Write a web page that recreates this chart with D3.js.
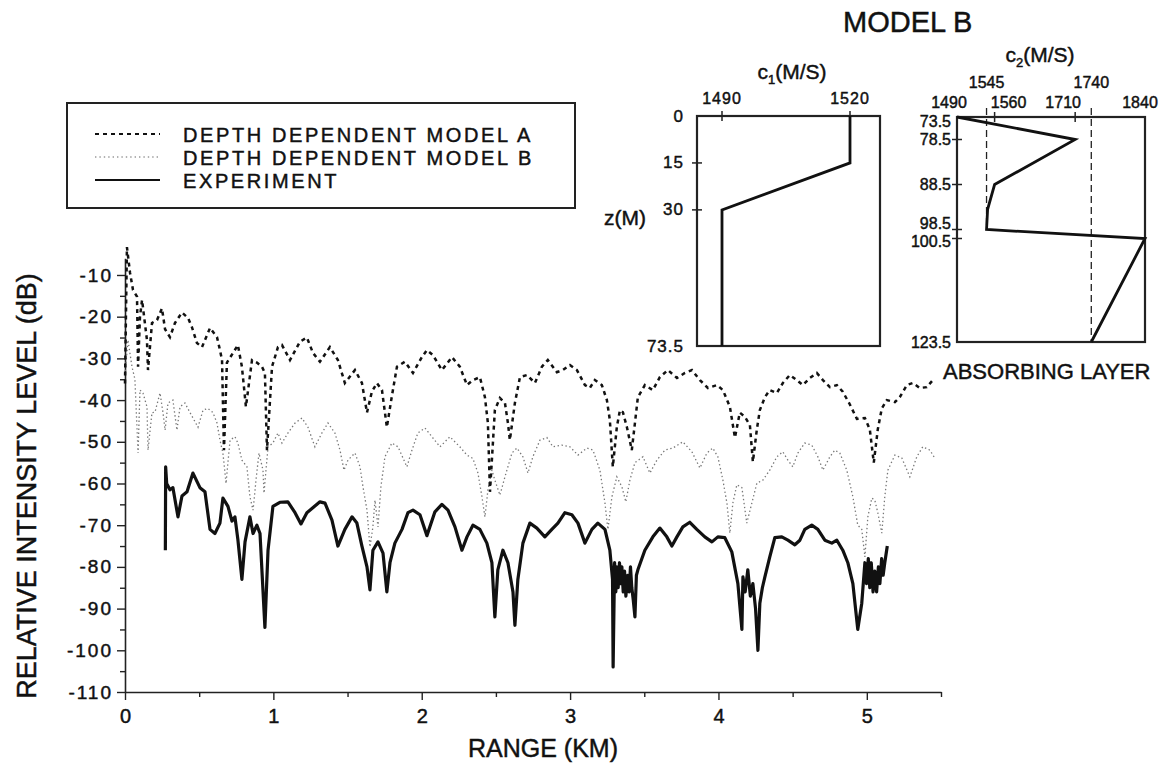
<!DOCTYPE html>
<html><head><meta charset="utf-8">
<script src="https://cdn.jsdelivr.net/npm/d3@7"></script>
<style>
body{margin:0;background:#fff;}
svg{display:block;}
text{font-family:"Liberation Sans",Arial,sans-serif;fill:#111;stroke:#111;stroke-width:0.45px;}
</style></head>
<body>
<svg id="c" width="1163" height="766"></svg>
<script>
// ---------------- DATA ----------------
// Main chart: range (km) and relative intensity level (dB)
const modelA_km = [0.000,0.013,0.034,0.054,0.081,0.088,0.101,0.115,0.148,0.155,0.182,0.216,0.249,0.270,0.303,0.337,0.384,0.425,0.451,0.485,0.519,0.539,0.573,0.620,0.640,0.654,0.667,0.687,0.728,0.761,0.788,0.815,0.856,0.889,0.923,0.943,0.957,0.991,1.031,1.058,1.112,1.179,1.226,1.267,1.314,1.381,1.435,1.482,1.550,1.597,1.631,1.664,1.698,1.732,1.765,1.799,1.833,1.887,1.941,2.001,2.035,2.075,2.136,2.204,2.257,2.305,2.345,2.392,2.426,2.446,2.460,2.493,2.527,2.561,2.581,2.594,2.628,2.662,2.709,2.763,2.810,2.850,2.911,2.951,2.999,3.046,3.100,3.133,3.167,3.214,3.248,3.268,3.288,3.315,3.336,3.356,3.383,3.416,3.437,3.457,3.504,3.558,3.605,3.659,3.720,3.774,3.821,3.875,3.929,3.989,4.030,4.077,4.111,4.144,4.178,4.212,4.232,4.259,4.279,4.313,4.346,4.394,4.434,4.481,4.528,4.569,4.616,4.663,4.704,4.751,4.798,4.838,4.885,4.933,4.987,5.020,5.047,5.074,5.101,5.135,5.189,5.222,5.270,5.310,5.357,5.404,5.445];
const modelA_db = [-36,-3.3,-9.5,-13.6,-15.2,-32,-20,-16,-25.6,-32.8,-21.5,-20.8,-18,-23,-24.9,-21.5,-19,-20.3,-22.5,-26.3,-27.3,-25.6,-22.7,-24.9,-28,-30.4,-52,-31,-28.7,-26.8,-32,-41.6,-30.4,-31,-32,-33.5,-52,-32,-27.3,-26.8,-30.4,-26,-25,-28.7,-30.8,-27.3,-30.4,-35.9,-32.8,-35.9,-43,-38,-35.9,-37.6,-46.5,-39,-32,-30.8,-33.5,-29.7,-28,-29.2,-32.8,-29.7,-32,-36.4,-35.2,-34.5,-39.3,-45.5,-62,-42.4,-39.5,-40.7,-45.5,-49.6,-40.7,-34.5,-34,-35.9,-32,-30.4,-33.3,-32.8,-31.6,-32.8,-36.4,-37.1,-35.2,-36.4,-40,-44.8,-56,-46.5,-42.4,-42.9,-46.5,-52,-45.5,-39.3,-36.4,-37.6,-34.5,-32.8,-34.7,-33.5,-32.8,-35.2,-37.1,-36.4,-37.6,-41.6,-49,-43,-44,-46,-54.8,-47,-42.4,-39.3,-37.6,-38.3,-35.9,-34,-35.2,-36.4,-34.7,-33.5,-35.2,-36.9,-36.4,-38,-41,-44.5,-44.3,-47,-55,-47,-42,-40,-40.5,-39.3,-36.4,-35.9,-37.1,-36.9,-35.2];

const modelB_km = [0.000,0.020,0.047,0.067,0.088,0.101,0.121,0.148,0.155,0.182,0.202,0.236,0.256,0.270,0.290,0.323,0.350,0.371,0.404,0.438,0.472,0.492,0.526,0.559,0.593,0.620,0.640,0.660,0.681,0.708,0.741,0.761,0.788,0.822,0.842,0.863,0.883,0.903,0.930,0.937,0.964,0.997,1.031,1.058,1.098,1.146,1.193,1.233,1.280,1.327,1.368,1.415,1.449,1.476,1.503,1.550,1.584,1.604,1.631,1.651,1.671,1.685,1.705,1.725,1.752,1.799,1.840,1.900,1.934,1.974,2.022,2.069,2.123,2.190,2.257,2.305,2.345,2.379,2.406,2.426,2.446,2.473,2.493,2.527,2.561,2.608,2.642,2.682,2.716,2.749,2.797,2.844,2.884,2.945,2.999,3.053,3.113,3.154,3.201,3.235,3.255,3.282,3.315,3.349,3.376,3.403,3.437,3.491,3.538,3.585,3.639,3.693,3.760,3.821,3.875,3.922,3.962,3.996,4.030,4.057,4.077,4.097,4.124,4.158,4.191,4.225,4.259,4.299,4.346,4.394,4.434,4.468,4.501,4.535,4.582,4.629,4.670,4.704,4.751,4.784,4.818,4.865,4.906,4.939,4.966,4.987,5.007,5.034,5.054,5.074,5.101,5.121,5.142,5.189,5.236,5.290,5.337,5.377,5.425,5.458];
const modelB_db = [-34,-25.6,-32,-35,-52.7,-37.6,-38.3,-41.6,-52,-43,-42.9,-38.3,-43,-47.2,-40.7,-40,-47.2,-41.6,-40.7,-43,-45.2,-46.5,-42.4,-42,-43,-45.5,-49.6,-52.7,-60,-49.6,-48.8,-50.3,-54.4,-56,-63.2,-66.4,-59.2,-52.7,-56.8,-62.3,-51.2,-50.3,-47.9,-50.3,-47.9,-45.5,-44.3,-46.5,-51.2,-47.9,-45.5,-47.9,-52,-56.8,-54.4,-52.7,-56,-60.8,-66.4,-75.2,-70.4,-64,-70.4,-60.8,-53.6,-50.3,-51.2,-56,-52,-47.9,-46.7,-48.8,-51.2,-48.8,-51.2,-53.2,-54,-57.5,-63.2,-68,-61.6,-56.8,-59.2,-62.8,-58.4,-52.7,-51.5,-53.6,-57.5,-53.6,-49.6,-49,-51.2,-50.8,-51.2,-53.2,-51.5,-52,-56.8,-64.7,-71,-63.2,-58.4,-60.8,-64.4,-59.2,-55,-53.6,-57.5,-54.4,-52,-51.5,-50,-52.4,-56.3,-52.7,-51.5,-53.6,-59.2,-64.7,-71.9,-64.7,-60.3,-61,-69.5,-64.7,-59.9,-59.2,-56.8,-53.6,-52.4,-54.4,-56,-52.7,-50.3,-50.8,-53.6,-56.8,-53.6,-52,-52.7,-56.8,-63.2,-70,-71,-77.6,-68,-63.5,-64,-67,-71.9,-63.2,-56.8,-53.2,-53.9,-58.4,-53.6,-51.2,-52,-53.9];

const exp_km = [0.272,0.274,0.281,0.303,0.323,0.357,0.384,0.418,0.458,0.505,0.539,0.573,0.606,0.640,0.660,0.694,0.721,0.741,0.761,0.788,0.809,0.842,0.863,0.889,0.910,0.943,0.964,0.997,1.044,1.098,1.146,1.186,1.226,1.260,1.314,1.348,1.395,1.435,1.482,1.530,1.563,1.597,1.631,1.651,1.671,1.705,1.739,1.765,1.786,1.819,1.867,1.907,1.941,1.988,2.035,2.089,2.136,2.177,2.224,2.271,2.305,2.345,2.392,2.439,2.473,2.493,2.513,2.547,2.581,2.615,2.628,2.648,2.682,2.729,2.776,2.830,2.877,2.918,2.965,3.012,3.053,3.100,3.147,3.187,3.235,3.268,3.286,3.290,3.300,3.308,3.315,3.324,3.333,3.341,3.349,3.358,3.367,3.376,3.389,3.398,3.407,3.416,3.426,3.437,3.447,3.457,3.504,3.558,3.605,3.652,3.686,3.720,3.760,3.807,3.854,3.908,3.956,3.996,4.043,4.090,4.131,4.158,4.165,4.180,4.198,4.215,4.232,4.250,4.266,4.279,4.296,4.313,4.346,4.380,4.427,4.468,4.515,4.549,4.582,4.629,4.670,4.717,4.764,4.798,4.838,4.872,4.906,4.939,4.966,4.987,4.998,5.010,5.020,5.030,5.042,5.054,5.066,5.078,5.088,5.100,5.110,5.121,5.138,5.155];
const exp_db = [-76,-56,-60,-61.5,-61,-68,-63,-62,-57.5,-61,-62,-71,-72,-69.5,-63.5,-65.5,-69,-68,-73.5,-83,-74,-68,-72,-70,-72,-94.5,-76,-65.5,-64.5,-64.4,-67,-69.7,-67,-66,-64.4,-64.7,-68.8,-75,-71,-68,-69.5,-75,-80,-85.5,-76,-74,-76.7,-86,-79,-74.3,-71,-67,-66.4,-67.5,-72.5,-66.8,-65,-66.4,-70.4,-76,-72.8,-70,-71,-74.3,-79,-92,-80.7,-76,-79,-86,-94,-83,-74.3,-69.5,-70.7,-72.8,-71,-69.5,-67,-67.5,-69.5,-74.3,-71,-69.5,-71,-76,-83,-104,-79,-86,-80,-85,-79,-84,-80,-86,-81,-87,-82,-86,-80,-85,-88,-92,-82,-80.7,-76,-72.8,-70.7,-72.8,-75,-72.8,-70.4,-69.3,-71,-72.8,-74,-72.8,-73,-76.4,-84,-95,-82.4,-86,-80.7,-87,-84,-90,-100,-88.7,-85,-82.4,-77.6,-73,-72.8,-73.6,-74.7,-73.6,-71,-70,-71,-73.6,-74.3,-73.6,-76,-79,-84,-95,-88.7,-79,-84,-78,-85,-79,-86,-81,-86,-80,-84,-78,-82,-79,-75];

const yTicks = [-10,-20,-30,-40,-50,-60,-70,-80,-90,-100,-110];
const yMinor = [-15,-25,-35,-45,-55,-65,-75,-85,-95,-105];
const xTicks = [0,1,2,3,4,5];
const xMinor = [0.5,1.5,2.5,3.5,4.5,5.5];

const legendLabels = ["DEPTH DEPENDENT MODEL A","DEPTH DEPENDENT MODEL B","EXPERIMENT"];

// Inset 1: water column sound speed c1 vs depth z
const c1_depth = [0,15,30,73.5];
const c1_speed = [1520,1520,1490,1490];
const c1_ticks = [1490,1520];
const z1_ticks = [0,15,30,73.5];

// Inset 2: bottom sound speed c2 vs depth
const c2_depth = [73.5,78.5,88.5,94,98.5,100.5,123.5];
const c2_speed = [1490,1710,1560,1547,1545,1840,1740];
const c2_ticks = [1490,1560,1710,1840];
const c2_refs = [1545,1740];
const z2_ticks = [73.5,78.5,88.5,98.5,100.5,123.5];

// ---------------- DRAW ----------------
const svg = d3.select("#c");
const x = d3.scaleLinear().domain([0,5.5]).range([125,941]);
const y = d3.scaleLinear().domain([-110,-6]).range([692,258.3]);

// axes
const gy = svg.append("g").attr("transform","translate(125,0)")
  .call(d3.axisLeft(y).tickValues(yTicks).tickSize(8).tickSizeOuter(0).tickFormat(d=>d));
gy.selectAll("text").style("font-size","19px").attr("x",-12).style("letter-spacing","2px");
svg.append("g").attr("transform","translate(125,0)")
  .call(d3.axisLeft(y).tickValues(yMinor).tickSize(5).tickFormat("")).select(".domain").remove();
const gx = svg.append("g").attr("transform","translate(0,692)")
  .call(d3.axisBottom(x).tickValues(xTicks).tickSize(8).tickSizeOuter(0).tickFormat(d3.format("d")));
gx.selectAll("text").style("font-size","20px").attr("y",17);
svg.append("g").attr("transform","translate(0,692)")
  .call(d3.axisBottom(x).tickValues(xMinor).tickSize(5).tickFormat("")).select(".domain").remove();
svg.selectAll(".domain").attr("stroke","#222").attr("stroke-width",1.6);
svg.selectAll(".tick line").attr("stroke","#222").attr("stroke-width",1.4);
svg.selectAll(".tick text").attr("fill","#111").style("font-family","'Liberation Sans',Arial,sans-serif");

svg.append("text").attr("transform","translate(27,486) rotate(-90)")
  .attr("text-anchor","middle").attr("dominant-baseline","central")
  .style("font-size","27px").text("RELATIVE INTENSITY LEVEL (dB)");
svg.append("text").attr("x",543).attr("y",757).attr("text-anchor","middle")
  .style("font-size","25px").text("RANGE (KM)");

// curves
const lineMain = d3.line().x(d=>x(d[0])).y(d=>y(d[1]));
const zip = (a,b)=>a.map((v,i)=>[v,b[i]]);
svg.append("path").datum(zip(modelB_km,modelB_db)).attr("d",lineMain)
  .attr("fill","none").attr("stroke","#777").attr("stroke-width",1.3).attr("stroke-dasharray","1.4,2.6");
svg.append("path").datum(zip(exp_km,exp_db)).attr("d",lineMain)
  .attr("fill","none").attr("stroke","#111").attr("stroke-width",3.2).attr("stroke-linejoin","round");
svg.append("path").datum(zip(modelA_km,modelA_db)).attr("d",lineMain)
  .attr("fill","none").attr("stroke","#111").attr("stroke-width",2.5).attr("stroke-dasharray","4,4");

// legend
svg.append("rect").attr("x",67).attr("y",103).attr("width",508).attr("height",105)
  .attr("fill","none").attr("stroke","#222").attr("stroke-width",2);
const legStyles = [
  {stroke:"#111",w:2.2,dash:"4,4"},
  {stroke:"#999",w:1.4,dash:"1.4,3"},
  {stroke:"#111",w:2,dash:null}];
legendLabels.forEach((t,i)=>{
  const ly = 134 + i*23;
  const s = legStyles[i];
  svg.append("line").attr("x1",95).attr("x2",160).attr("y1",ly).attr("y2",ly)
    .attr("stroke",s.stroke).attr("stroke-width",s.w).attr("stroke-dasharray",s.dash);
  svg.append("text").attr("x",183).attr("y",ly+7.5).style("font-size","20px")
    .style("letter-spacing","2.6px").text(t);
});

// ---------- inset 1 ----------
const x1 = d3.scaleLinear().domain([1490,1520]).range([722,850]);
const z1 = d3.scaleLinear().domain([0,73.5]).range([116,346]);
svg.append("rect").attr("x",697).attr("y",116).attr("width",183).attr("height",230)
  .attr("fill","none").attr("stroke","#222").attr("stroke-width",2.2);
c1_ticks.forEach(v=>{
  svg.append("line").attr("x1",x1(v)).attr("x2",x1(v)).attr("y1",111).attr("y2",121).attr("stroke","#222").attr("stroke-width",1.5);
  svg.append("text").attr("x",x1(v)).attr("y",104).attr("text-anchor","middle").style("font-size","16px").style("letter-spacing","1px").text(v);
});
z1_ticks.forEach(v=>{
  if(v>0 && v<73.5) svg.append("line").attr("x1",692).attr("x2",702).attr("y1",z1(v)).attr("y2",z1(v)).attr("stroke","#222").attr("stroke-width",1.5);
  svg.append("text").attr("x",684).attr("y",z1(v)).attr("text-anchor","end").attr("dominant-baseline","central").style("font-size","17px").style("letter-spacing","1px").text(v);
});
svg.append("path").datum(zip(c1_speed,c1_depth))
  .attr("d",d3.line().x(d=>x1(d[0])).y(d=>z1(d[1])))
  .attr("fill","none").attr("stroke","#111").attr("stroke-width",2.8);
const t1 = svg.append("text").attr("x",792).attr("y",79).attr("text-anchor","middle").style("font-size","21px");
t1.append("tspan").text("c");
t1.append("tspan").attr("dy",5).style("font-size","13px").text("1");
t1.append("tspan").attr("dy",-5).text("(M/S)");
svg.append("text").attr("x",646).attr("y",217).attr("text-anchor","end").attr("dominant-baseline","central").style("font-size","21px").text("z(M)");

// ---------- inset 2 ----------
const x2 = d3.scaleLinear().domain([1490,1840]).range([957,1145]);
const z2 = d3.scaleLinear().domain([73.5,123.5]).range([117,342]);
svg.append("rect").attr("x",957).attr("y",117).attr("width",188).attr("height",225)
  .attr("fill","none").attr("stroke","#222").attr("stroke-width",2.2);
const c2LabelShift = {1490:-8, 1560:14, 1710:-12, 1840:-5};
c2_ticks.forEach(v=>{
  if(v>1490 && v<1840) svg.append("line").attr("x1",x2(v)).attr("x2",x2(v)).attr("y1",112).attr("y2",122).attr("stroke","#222").attr("stroke-width",1.5);
  svg.append("text").attr("x",x2(v)+c2LabelShift[v]).attr("y",108).attr("text-anchor","middle").style("font-size","16px").text(v);
});
c2_refs.forEach((v,i)=>{
  svg.append("line").attr("x1",x2(v)).attr("x2",x2(v)).attr("y1",108)
    .attr("y2", i===0 ? z2(98.5) : 342)
    .attr("stroke","#222").attr("stroke-width",1.3).attr("stroke-dasharray","7,4");
  svg.append("text").attr("x",x2(v)).attr("y",88).attr("text-anchor","middle").style("font-size","16px").text(v);
});
const z2Offsets = {73.5:4, 98.5:-6, 100.5:3};
z2_ticks.forEach(v=>{
  if(v>73.5 && v<123.5) svg.append("line").attr("x1",952).attr("x2",962).attr("y1",z2(v)).attr("y2",z2(v)).attr("stroke","#222").attr("stroke-width",1.5);
  svg.append("text").attr("x",951).attr("y",z2(v)+(z2Offsets[v]||0)).attr("text-anchor","end").attr("dominant-baseline","central").style("font-size","16px").text(v);
});
svg.append("path").datum(zip(c2_speed,c2_depth))
  .attr("d",d3.line().x(d=>x2(d[0])).y(d=>z2(d[1])))
  .attr("fill","none").attr("stroke","#111").attr("stroke-width",2.8);
const t2 = svg.append("text").attr("x",1040).attr("y",62).attr("text-anchor","middle").style("font-size","21px");
t2.append("tspan").text("c");
t2.append("tspan").attr("dy",5).style("font-size","13px").text("2");
t2.append("tspan").attr("dy",-5).text("(M/S)");
svg.append("text").attr("x",843).attr("y",32).style("font-size","29px").text("MODEL B");
svg.append("text").attr("x",943).attr("y",379).style("font-size","22px").text("ABSORBING LAYER");
</script>
</body></html>
